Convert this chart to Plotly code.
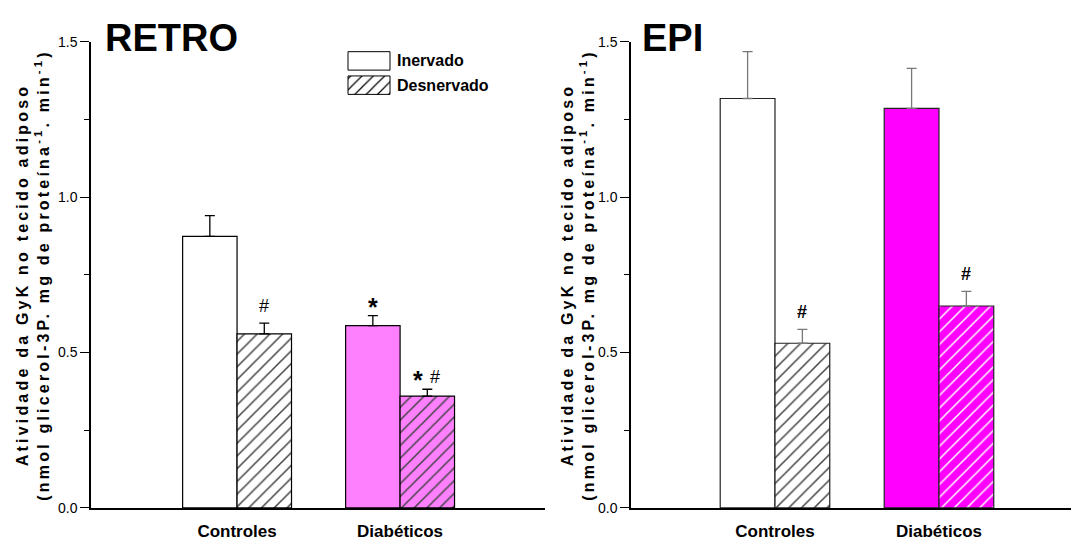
import plotly.graph_objects as go

# ---------------- data ----------------
groups = ["Controles", "Diabéticos"]
group_pos = [1, 2]

retro_inervado = [0.874, 0.587]
retro_inervado_err = [0.067, 0.032]
retro_desnervado = [0.560, 0.360]
retro_desnervado_err = [0.035, 0.022]

epi_inervado = [1.318, 1.286]
epi_inervado_err = [0.151, 0.129]
epi_desnervado = [0.530, 0.650]
epi_desnervado_err = [0.045, 0.047]

retro_colors = ["#FFFFFF", "#FF80FF"]
epi_colors = ["#FFFFFF", "#FF00FF"]

# significance marks per bar
retro_star_inervado = [False, True]
retro_hash_inervado = [False, False]
retro_star_desnervado = [False, True]
retro_hash_desnervado = [True, True]
epi_star_desnervado = [False, False]
epi_hash_desnervado = [True, True]

ytitle = ("<b>Atividade da GyK no tecido adiposo<br>"
          "(nmol glicerol-3P. mg de proteína<sup>-1</sup>. min<sup>-1</sup>)</b>")

NARROW = "Liberation Sans Narrow, Arial Narrow, Liberation Sans, Arial, sans-serif"
ARIAL = "Liberation Sans, Arial, sans-serif"

W, H = 1071, 545
BW = 0.334

fig = go.Figure()


def add_panel(xa, ya, inerv, inerv_err, desn, desn_err, colors, err_color, edge):
    fig.add_trace(go.Bar(
        x=group_pos, y=inerv, width=BW, offset=-BW,
        marker=dict(color=colors, line=dict(color=edge, width=1.2)),
        error_y=dict(type="data", array=inerv_err, arrayminus=[0] * len(inerv),
                     symmetric=False, color=err_color, thickness=1.3, width=5),
        xaxis=xa, yaxis=ya, showlegend=False, name="Inervado"))
    fig.add_trace(go.Bar(
        x=group_pos, y=desn, width=BW, offset=0,
        marker=dict(color=colors, line=dict(color=edge, width=1.2),
                    pattern=dict(shape="/", fgcolor="black", fgopacity=1,
                                 size=9, solidity=0.17)),
        error_y=dict(type="data", array=desn_err, arrayminus=[0] * len(desn),
                     symmetric=False, color=err_color, thickness=1.3, width=5),
        xaxis=xa, yaxis=ya, showlegend=False, name="Desnervado"))


add_panel("x", "y", retro_inervado, retro_inervado_err, retro_desnervado,
          retro_desnervado_err, retro_colors, "#000000", "#000000")
add_panel("x2", "y2", epi_inervado, epi_inervado_err, epi_desnervado,
          epi_desnervado_err, epi_colors, "#777777", "#222222")


def add_marks(xa, ya, vals, errs, stars, hashes, off, bold_hash):
    for p, v, e, s, h in zip(group_pos, vals, errs, stars, hashes):
        both = s and h
        if s:
            fig.add_annotation(x=p + off, y=v + e, xref=xa, yref=ya, text="<b>*</b>",
                               showarrow=False, yanchor="middle",
                               yshift=9, xshift=-9 if both else 0,
                               font=dict(family=ARIAL, size=25, color="black"))
        if h:
            fig.add_annotation(x=p + off, y=v + e, xref=xa, yref=ya,
                               text="<b>#</b>" if bold_hash else "#",
                               showarrow=False, yanchor="middle",
                               yshift=12 if both else 17, xshift=8 if both else 0,
                               font=dict(family=ARIAL, size=18, color="black"))


add_marks("x", "y", retro_inervado, retro_inervado_err, retro_star_inervado,
          retro_hash_inervado, -BW / 2, False)
add_marks("x", "y", retro_desnervado, retro_desnervado_err, retro_star_desnervado,
          retro_hash_desnervado, BW / 2, False)
add_marks("x2", "y2", epi_desnervado, epi_desnervado_err, epi_star_desnervado,
          epi_hash_desnervado, BW / 2, True)

# ---------------- legend (drawn on an overlay axis in pixel units) ----------------
fig.add_trace(go.Scatter(x=[348, 390, 390, 348, 348], y=[45, 45, 64, 64, 45],
                         mode="lines", fill="toself", fillcolor="white",
                         line=dict(color="black", width=1), xaxis="x3", yaxis="y3",
                         showlegend=False, hoverinfo="skip"))
fig.add_trace(go.Scatter(x=[348, 390, 390, 348, 348], y=[70, 70, 89, 89, 70],
                         mode="lines", fill="toself",
                         fillpattern=dict(shape="/", fgcolor="black", fgopacity=1,
                                          bgcolor="white", size=8, solidity=0.15),
                         line=dict(color="black", width=1), xaxis="x3", yaxis="y3",
                         showlegend=False, hoverinfo="skip"))
for label, yy in [("Inervado", 54.5), ("Desnervado", 79.5)]:
    fig.add_annotation(x=395, y=yy, xref="x3", yref="y3", text=f"<b>{label}</b>",
                       showarrow=False, xanchor="left", yanchor="middle",
                       font=dict(family=NARROW, size=16, color="black"))

# ---------------- axes ----------------
y0 = (H - 515) / H
y1 = (H - 35) / H
yaxis_common = dict(range=[0, 1.5], tickmode="linear", tick0=0, dtick=0.5, tickformat=".1f",
                    ticks="outside", ticklen=9, tickwidth=1.3, tickcolor="black",
                    minor=dict(dtick=0.25, ticks="outside", ticklen=5, tickwidth=1.3,
                               tickcolor="black", showgrid=False),
                    showline=True, linecolor="black", linewidth=1.5,
                    showgrid=False, zeroline=False, domain=[y0, y1],
                    tickfont=dict(family=NARROW, size=14, color="black"))
xaxis_common = dict(tickmode="array", tickvals=group_pos,
                    ticktext=[f"<b>{g}</b>" for g in groups],
                    ticks="", showline=True, linecolor="black", linewidth=2,
                    showgrid=False, zeroline=False, ticklabelstandoff=7,
                    tickfont=dict(family=NARROW, size=17, color="black"))

fig.update_layout(
    width=W, height=H,
    margin=dict(l=0, r=0, t=0, b=0),
    paper_bgcolor="white", plot_bgcolor="rgba(0,0,0,0)",
    barmode="overlay",
    xaxis=dict(domain=[91 / W, 545 / W], range=[0.104, 2.889], anchor="y", **xaxis_common),
    yaxis=dict(anchor="x", **yaxis_common),
    xaxis2=dict(domain=[631 / W, 1.0], range=[0.122, 2.805], anchor="y2", **xaxis_common),
    yaxis2=dict(anchor="x2", **yaxis_common),
    xaxis3=dict(domain=[0, 1], range=[0, W], visible=False, anchor="y3", fixedrange=True),
    yaxis3=dict(domain=[0, 1], range=[H, 0], visible=False, anchor="x3", fixedrange=True),
    showlegend=False,
)

# panel titles
fig.add_annotation(x=103 / W, y=(H - 31) / H, xref="paper", yref="paper", text="<b>RETRO</b>",
                   showarrow=False, xanchor="left", yanchor="middle",
                   font=dict(family=ARIAL, size=38, color="black"))
fig.add_annotation(x=640 / W, y=(H - 31) / H, xref="paper", yref="paper", text="<b>EPI</b>",
                   showarrow=False, xanchor="left", yanchor="middle",
                   font=dict(family=ARIAL, size=38, color="black"))

# y-axis titles
for xc in [33, 578]:
    fig.add_annotation(x=xc / W, y=(y0 + y1) / 2, xref="paper", yref="paper", text=ytitle,
                       showarrow=False, textangle=-90, xanchor="center", yanchor="middle",
                       font=dict(family=ARIAL, size=16, color="black"))

post = """
document.querySelectorAll('.annotation-text').forEach(function(t){
  if (t.textContent.indexOf('Atividade') >= 0) { t.style.letterSpacing = '3.2px'; }
});
"""
fig.write_html("out.html", post_script=post)
